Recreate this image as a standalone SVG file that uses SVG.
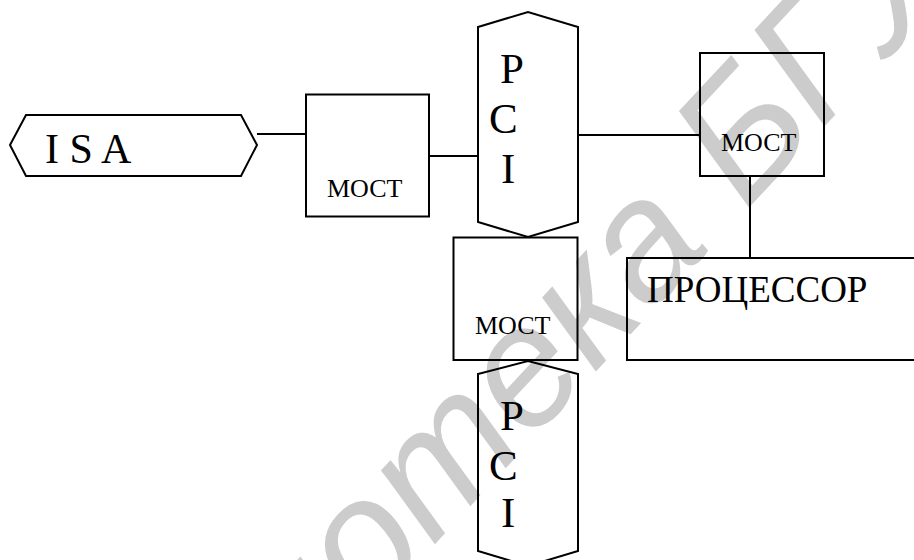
<svg xmlns="http://www.w3.org/2000/svg" width="914" height="560" viewBox="0 0 914 560">
<style>
  .shape { fill: none; stroke: #000; stroke-width: 2; }
  .conn { stroke: #000; stroke-width: 2; fill: none; }
  .lbl { font-family: "Liberation Serif", "Times New Roman", serif; fill: #000; }
  .small { font-size: 26px; }
  .big { font-size: 43px; }
  .wm { font-family: "Liberation Sans", Arial, sans-serif; font-style: italic; font-size: 170px; fill: #cccccc; }
</style>
<rect width="914" height="560" fill="#fff"/>
<text class="wm" transform="translate(36,972) rotate(-47)">Библиотека БГУИР</text>

<g id="connectors">
  <line class="conn" x1="257" y1="134" x2="306" y2="134"/>
  <line class="conn" x1="429" y1="156" x2="478" y2="156"/>
  <line class="conn" x1="578" y1="135" x2="700" y2="135"/>
  <line class="conn" x1="750" y1="176" x2="750" y2="258"/>
</g>

<g id="isa">
  <polygon class="shape" points="10,145 26,115 241,115 257,145 241,176 26,176"/>
  <text class="lbl" x="45" y="163" font-size="42">I S A</text>
</g>

<g id="most1">
  <rect class="shape" x="306" y="94.5" width="123" height="122"/>
  <text class="lbl small" x="327" y="197">МОСТ</text>
</g>

<g id="pci-top">
  <polygon class="shape" points="478,27 528,12 578,27 578,222 528,237 478,222"/>
  <text class="lbl big" x="500" y="83">P</text>
  <text class="lbl big" x="489" y="133">C</text>
  <text class="lbl big" x="501" y="183">I</text>
</g>

<g id="most-right">
  <rect class="shape" x="700" y="53" width="124" height="123"/>
  <text class="lbl small" x="721" y="151">МОСТ</text>
</g>

<g id="processor">
  <rect class="shape" x="627" y="258" width="300" height="102"/>
  <text class="lbl" x="647" y="302" font-size="37">ПРОЦЕССОР</text>
</g>

<g id="most-mid">
  <rect class="shape" x="453.5" y="237.5" width="124" height="122.5"/>
  <text class="lbl small" x="475" y="334">МОСТ</text>
</g>

<g id="pci-bottom">
  <polygon class="shape" points="478,374 528,361 578,374 578,551 528,566 478,551"/>
  <text class="lbl big" x="500" y="430">P</text>
  <text class="lbl big" x="489" y="480">C</text>
  <text class="lbl big" x="501" y="527">I</text>
</g>
</svg>
